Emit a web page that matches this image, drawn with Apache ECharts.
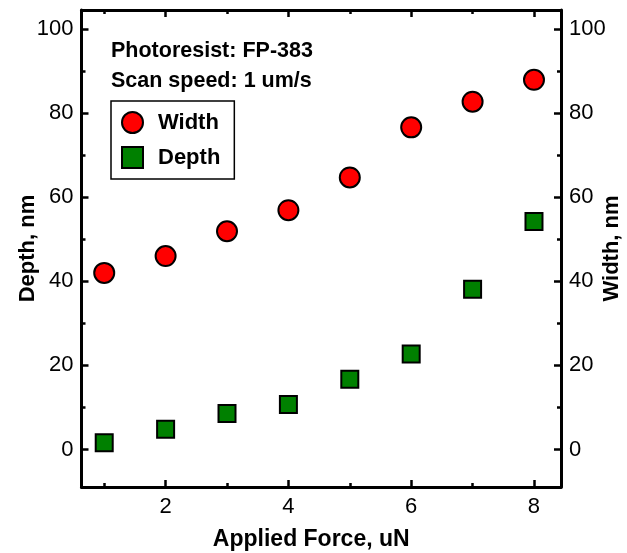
<!DOCTYPE html>
<html>
<head>
<meta charset="utf-8">
<script src="https://cdn.jsdelivr.net/npm/echarts@6/dist/echarts.min.js"></script>
<style>
  html, body { margin: 0; padding: 0; background: #ffffff; }
  #chart { width: 627px; height: 553px; }
</style>
</head>
<body>
<div id="chart"></div>
<script>
// Applied force (uN) for each scratch
const force = [1, 2, 3, 4, 5, 6, 7, 8];
// Measured groove width and depth (nm)
const widthNm = [42.0, 46.0, 51.9, 56.9, 64.7, 76.6, 82.7, 87.9];
const depthNm = [1.6, 4.8, 8.6, 10.7, 16.7, 22.7, 38.1, 54.2];

// Axis ticks
const xMajor = [2, 4, 6, 8];
const xMinor = [1, 3, 5, 7];
const yMajor = [0, 20, 40, 60, 80, 100];
const yMinor = [10, 30, 50, 70, 90];

const X_MIN = 0.63, X_MAX = 8.44;
const Y_MIN = -8.9, Y_MAX = 104.5;

const FONT = 'Liberation Sans, Arial, sans-serif';
const INK = '#000000';

function pairs(xs, ys) { return xs.map((x, i) => [x, ys[i]]); }

function xAxisDef(pos, ticks, len, withLine, withLabels, name) {
  return {
    type: 'value', position: pos, min: X_MIN, max: X_MAX,
    splitLine: { show: false },
    axisLine: { show: withLine, onZero: false, lineStyle: { color: INK, width: 3 } },
    axisTick: { show: true, inside: true, length: len, customValues: ticks,
                lineStyle: { color: INK, width: 2.5 } },
    axisLabel: { show: withLabels, customValues: ticks, color: INK,
                 fontFamily: FONT, fontSize: 22, margin: 9 },
    name: name || '', nameLocation: 'middle', nameGap: 41, nameMoveOverlap: false,
    nameTextStyle: { color: INK, fontFamily: FONT, fontSize: 23, fontWeight: 'bold',
                     padding: [0, 20, 0, 0] }
  };
}

function yAxisDef(pos, ticks, len, withLine, withLabels, name, gap) {
  return {
    type: 'value', position: pos, min: Y_MIN, max: Y_MAX,
    splitLine: { show: false },
    axisLine: { show: withLine, onZero: false, lineStyle: { color: INK, width: 3 } },
    axisTick: { show: true, inside: true, length: len, customValues: ticks,
                lineStyle: { color: INK, width: 2.5 } },
    axisLabel: { show: withLabels, customValues: ticks, color: INK,
                 fontFamily: FONT, fontSize: 22, margin: 8 },
    name: name || '', nameLocation: 'middle', nameGap: gap || 40, nameRotate: 90,
    nameMoveOverlap: false,
    nameTextStyle: { color: INK, fontFamily: FONT, fontSize: 22, fontWeight: 'bold' }
  };
}

const chart = echarts.init(document.getElementById('chart'), null, { renderer: 'canvas' });

chart.setOption({
  backgroundColor: '#ffffff',
  animation: false,
  grid: { left: 81.5, right: 66, top: 10, bottom: 66, containLabel: false, outerBoundsMode: 'none' },
  title: {
    text: 'Photoresist: FP-383\nScan speed: 1 um/s',
    left: 106, top: 31,
    textStyle: { color: INK, fontFamily: FONT, fontSize: 21.5, fontWeight: 'bold', lineHeight: 30 }
  },
  legend: {
    orient: 'vertical', left: 111, top: 101,
    padding: [10, 14, 10, 10], itemGap: 12,
    itemWidth: 21, itemHeight: 21,
    borderColor: INK, borderWidth: 1.5, backgroundColor: '#ffffff',
    textStyle: { color: INK, fontFamily: FONT, fontSize: 22, fontWeight: 'bold', padding: [0, 0, 0, 10] },
    data: ['Width', 'Depth']
  },
  xAxis: [
    xAxisDef('bottom', xMajor, 7, true, true, 'Applied Force, uN'),
    xAxisDef('bottom', xMinor, 4, false, false),
    xAxisDef('top', xMajor, 7, true, false),
    xAxisDef('top', xMinor, 4, false, false)
  ],
  yAxis: [
    yAxisDef('left', yMajor, 7, true, true, 'Depth, nm', 43),
    yAxisDef('left', yMinor, 4, false, false),
    yAxisDef('right', yMajor, 7, true, true, 'Width, nm', 40),
    yAxisDef('right', yMinor, 4, false, false)
  ],
  series: [
    {
      name: 'Width', type: 'scatter', xAxisIndex: 0, yAxisIndex: 2,
      symbol: 'circle', symbolSize: 20,
      itemStyle: { color: '#ff0000', borderColor: INK, borderWidth: 2, opacity: 1 },
      data: pairs(force, widthNm), z: 3
    },
    {
      name: 'Depth', type: 'scatter', xAxisIndex: 0, yAxisIndex: 0,
      symbol: 'rect', symbolSize: 17,
      itemStyle: { color: '#008000', borderColor: INK, borderWidth: 2, opacity: 1 },
      data: pairs(force, depthNm), z: 3
    }
  ]
});
</script>
</body>
</html>
